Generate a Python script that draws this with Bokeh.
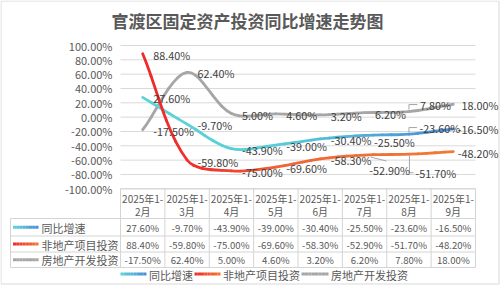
import math
import numpy as np
from bokeh.plotting import figure
from bokeh.models import Range1d
from bokeh.core.properties import value
from bokeh.embed import file_html
from bokeh.resources import INLINE

# ---------------- data ----------------
title = "官渡区固定资产投资同比增速走势图"
header_line1 = ["2025年1-"] * 8
header_line2 = ["2月", "3月", "4月", "5月", "6月", "7月", "8月", "9月"]
series_names = ["同比增速", "非地产项目投资", "房地产开发投资"]
yoy = [27.6, -9.7, -43.9, -39.0, -30.4, -25.5, -23.6, -16.5]
non_re = [88.4, -59.8, -75.0, -69.6, -58.3, -52.9, -51.7, -48.2]
re_dev = [-17.5, 62.4, 5.0, 4.6, 3.2, 6.2, 7.8, 18.0]
y_ticks = [100, 80, 60, 40, 20, 0, -20, -40, -60, -80, -100]

# ---------------- layout (pixel units) ----------------
W, H = 500, 285
PL, PR, PT, PB = 120.0, 475.0, 45.0, 188.3
CW = (PR - PL) / 8.0
PPU = (PB - PT) / 200.0

FONT = value("Noto Sans CJK SC")
TXT = "#595959"
LBL = "#404040"
GRID = "#D9D9D9"
TBL = "#D4D4D4"

CYAN_STOPS = [(0.0, "#5CD4D6"), (0.45, "#57CCD8"), (1.0, "#4A8CD6")]
RED_STOPS = [(0.0, "#F02828"), (0.22, "#F0342C"), (0.45, "#F06436"), (1.0, "#F07A36")]
GRAY_STOPS = [(0.0, "#A6A6A6"), (1.0, "#A6A6A6")]


def hex2rgb(h):
    h = h.lstrip("#")
    return tuple(int(h[k:k + 2], 16) for k in (0, 2, 4))


def grad(stops, f):
    f = min(max(f, 0.0), 1.0)
    for (f0, c0), (f1, c1) in zip(stops[:-1], stops[1:]):
        if f0 <= f <= f1:
            t = 0 if f1 == f0 else (f - f0) / (f1 - f0)
            a, b = hex2rgb(c0), hex2rgb(c1)
            return "#%02x%02x%02x" % tuple(int(round(a[k] + (b[k] - a[k]) * t)) for k in range(3))
    return stops[-1][1]


def cubic_split(p0, p1, p2, p3, t):
    def lerp(a, b):
        return (a[0] + (b[0] - a[0]) * t, a[1] + (b[1] - a[1]) * t)
    p01, p12, p23 = lerp(p0, p1), lerp(p1, p2), lerp(p2, p3)
    p012, p123 = lerp(p01, p12), lerp(p12, p23)
    m = lerp(p012, p123)
    return (p0, p01, p012, m), (m, p123, p23, p3)


def to_px(pt):
    return (PL + CW * (pt[0] + 0.5), PT + (100 - pt[1]) * PPU)


def from_px(q):
    return ((q[0] - PL) / CW - 0.5, 100 - (q[1] - PT) / PPU)


def smooth_segments(vals, pieces=5):
    """Excel-like smoothing: cubic Bezier through the points, handles weighted by
    the on-screen lengths of neighbouring segments."""
    n = len(vals)
    Q = [to_px((float(i), float(v))) for i, v in enumerate(vals)]

    def dist(a, b):
        return math.hypot(b[0] - a[0], b[1] - a[1])

    segs = []
    for i in range(n - 1):
        q0 = Q[i - 1] if i > 0 else Q[i]
        q1, q2 = Q[i], Q[i + 1]
        q3 = Q[i + 2] if i + 2 < n else Q[i + 1]
        d01, d12, d23 = dist(q0, q1), dist(q1, q2), dist(q2, q3)
        f1 = d12 / (d01 + d12) / 3.0
        f2 = d12 / (d12 + d23) / 3.0
        c1 = (q1[0] + (q2[0] - q0[0]) * f1, q1[1] + (q2[1] - q0[1]) * f1)
        c2 = (q2[0] - (q3[0] - q1[0]) * f2, q2[1] - (q3[1] - q1[1]) * f2)
        cur = tuple(from_px(q) for q in (q1, c1, c2, q2))
        for j in range(pieces):
            if j == pieces - 1:
                segs.append(cur)
            else:
                left, cur = cubic_split(*cur, 1.0 / (pieces - j))
                segs.append(left)
    return segs


p = figure(width=W, height=H,
           x_range=Range1d(-0.5 - PL / CW, -0.5 + (W - PL) / CW),
           y_range=Range1d(100 - (H - PT) / PPU, 100 + PT / PPU),
           x_axis_type=None, y_axis_type=None,
           output_backend="svg", toolbar_location=None, min_border=0)
p.extra_x_ranges = {"px": Range1d(0, W)}
p.extra_y_ranges = {"px": Range1d(H, 0)}
p.outline_line_color = None
p.background_fill_color = "white"
p.border_fill_color = "white"
p.xgrid.visible = False
p.ygrid.visible = False

# chart border
p.quad(left=[0.5], right=[498.5], top=[0.5], bottom=[283.5], x_range_name="px", y_range_name="px",
       fill_color=None, line_color=GRID, line_width=1)

# title
p.text(x=[247], y=[19.5], text=[title], x_range_name="px", y_range_name="px",
       text_align="center", text_baseline="middle", text_font=FONT, text_font_style="bold",
       text_font_size="17px", text_color=TXT)

# grid lines and y tick labels
p.segment(x0=[-0.5] * len(y_ticks), x1=[7.5] * len(y_ticks), y0=y_ticks, y1=y_ticks,
          line_color=GRID, line_width=1)
p.text(x=[-0.5] * len(y_ticks), y=y_ticks, text=["%.2f%%" % t for t in y_ticks],
       x_offset=-8, text_align="right", text_baseline="middle", text_font=FONT,
       text_font_size="11px", text_color=TXT)

# smooth lines
series = [("yoy", yoy, CYAN_STOPS), ("non", non_re, RED_STOPS), ("re", re_dev, GRAY_STOPS)]
for key, vals, stops in [series[2], series[0], series[1]]:
    segs = smooth_segments(vals)
    cols = [grad(stops, ((s[0][0] + s[3][0]) / 2) / 7.0) for s in segs]
    p.bezier(x0=[s[0][0] for s in segs], y0=[s[0][1] for s in segs],
             x1=[s[3][0] for s in segs], y1=[s[3][1] for s in segs],
             cx0=[s[1][0] for s in segs], cy0=[s[1][1] for s in segs],
             cx1=[s[2][0] for s in segs], cy1=[s[2][1] for s in segs],
             line_color=cols, line_width=2.8, line_cap="round")

# data labels (offsets in px: right, down)
DEF = (10.5, 1.0)
special = {("yoy", 5): (9.5, 6.5), ("yoy", 6): (10.5, -6.0), ("re", 6): (11.0, -6.4),
           ("non", 5): (4.6, 15.0), ("non", 6): (6.5, 18.7), ("non", 1): (10.5, 2.0)}
last_dy = {"yoy": 0.5, "non": 1.5, "re": 1.0}
leaders = {("yoy", 6): [(0, -1.5), (0, -6.5), (8, -6.5)],
           ("re", 6): [(0, -2), (0, -7), (8.5, -7)],
           ("non", 5): [(6, 2), (22, 6)],
           ("non", 6): [(0.5, 1.5), (0.5, 18.5), (4.5, 18.5)]}

lx, ly, lt, rx, ry, rt = [], [], [], [], [], []
for key, vals, _ in series:
    for i, v in enumerate(vals):
        s = "%.2f%%" % v
        if i == len(vals) - 1:
            xr = W - 2
            rx.append(-0.5 + (xr - PL) / CW)
            ry.append(v - last_dy[key] / PPU)
            rt.append(s)
        else:
            dx, dy = special.get((key, i), DEF)
            lx.append(i + dx / CW)
            ly.append(v - dy / PPU)
            lt.append(s)

lxs, lys = [], []
vals_by_key = dict((k, v) for k, v, _ in series)
for (key, i), pts in leaders.items():
    lxs.append([i + dx / CW for dx, dy in pts])
    lys.append([vals_by_key[key][i] - dy / PPU for dx, dy in pts])
p.multi_line(xs=lxs, ys=lys, line_color="#A6A6A6", line_width=1)

p.text(x=lx, y=ly, text=lt, text_align="left", text_baseline="middle", text_font=FONT,
       text_font_size="10.8px", text_color=LBL)
p.text(x=rx, y=ry, text=rt, text_align="right", text_baseline="middle", text_font=FONT,
       text_font_size="10.8px", text_color=LBL)

# ---------------- data table ----------------
ROW_LINES = [218.0, 235.5, 251.5, 267.0]
ROW_MID = [(a + b) / 2 for a, b in zip(ROW_LINES[:-1], ROW_LINES[1:])]
TBL_L = 10.0

p.segment(x0=[PL], x1=[PR], y0=[PB], y1=[PB], x_range_name="px", y_range_name="px",
          line_color=TBL, line_width=1)
p.segment(x0=[TBL_L] * 4, x1=[PR] * 4, y0=ROW_LINES, y1=ROW_LINES,
          x_range_name="px", y_range_name="px", line_color=TBL, line_width=1)
p.segment(x0=[TBL_L, PL], x1=[TBL_L, PL], y0=[ROW_LINES[0], PB], y1=[ROW_LINES[-1]] * 2,
          x_range_name="px", y_range_name="px", line_color=TBL, line_width=1)
bx = [i + 0.5 for i in range(8)]
p.segment(x0=bx, x1=bx, y0=[PB] * 8, y1=[ROW_LINES[-1]] * 8, y_range_name="px",
          line_color=TBL, line_width=1)

cats = list(range(8))
p.text(x=cats, y=[197.5] * 8, text=header_line1, y_range_name="px", text_align="center",
       text_baseline="middle", text_font=FONT, text_font_size="10px", text_color=TXT)
p.text(x=cats, y=[210.5] * 8, text=header_line2, y_range_name="px", text_align="center",
       text_baseline="middle", text_font=FONT, text_font_size="10px", text_color=TXT)
for r, (key, vals, _) in enumerate(series):
    p.text(x=cats, y=[ROW_MID[r] + 0.5] * 8, text=["%.2f%%" % v for v in vals], y_range_name="px",
           text_align="center", text_baseline="middle", text_font=FONT, text_font_size="9.6px",
           text_color=TXT)


def key_line(x0, x1, y, stops, n=8):
    xs = np.linspace(x0, x1, n + 1)
    cols = [grad(stops, (k + 0.5) / n) for k in range(n)]
    p.segment(x0=list(xs[:-1]), x1=list(xs[1:]), y0=[y] * n, y1=[y] * n,
              x_range_name="px", y_range_name="px", line_color=cols, line_width=2.8,
              line_cap="butt")


key_stops = [CYAN_STOPS, RED_STOPS, GRAY_STOPS]
for r, name in enumerate(series_names):
    key_line(12.5, 38.0, ROW_MID[r], [(0, key_stops[r][0][1]), (1, key_stops[r][-1][1])])
p.text(x=[41] * 3, y=[m + 0.5 for m in ROW_MID], text=series_names, x_range_name="px",
       y_range_name="px", text_align="left", text_baseline="middle", text_font=FONT,
       text_font_size="11px", text_color=TXT)

# ---------------- bottom legend ----------------
LEG_Y = 273.5
leg_keys = [(120.0, 146.0, 148.5), (194.0, 220.0, 222.5), (301.0, 328.0, 330.5)]
for (k0, k1, tx), stops in zip(leg_keys, key_stops):
    key_line(k0, k1, LEG_Y, [(0, stops[0][1]), (1, stops[-1][1])])
p.text(x=[k[2] for k in leg_keys], y=[LEG_Y + 0.5] * 3, text=series_names, x_range_name="px",
       y_range_name="px", text_align="left", text_baseline="middle", text_font=FONT,
       text_font_size="11px", text_color=TXT)

open("out.html", "w").write(file_html(p, INLINE))
